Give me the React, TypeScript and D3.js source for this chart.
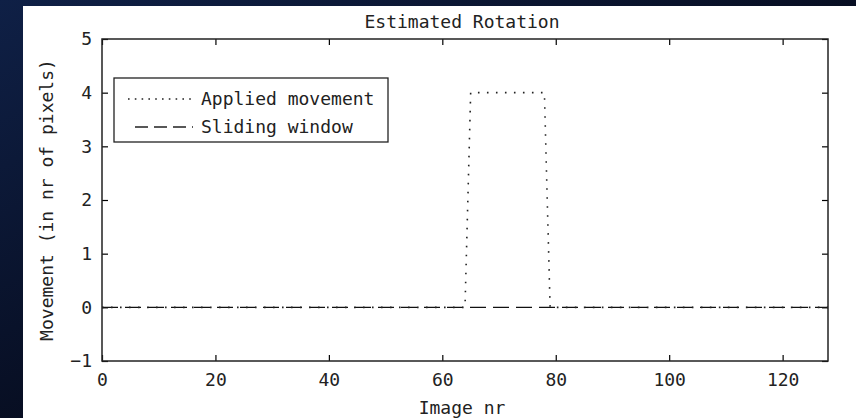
import React, { useEffect, useRef } from 'react';
import * as d3 from 'd3';

// Image numbers and movement values
const appliedX = [0, 64, 65, 78, 79, 128];
const appliedY = [0, 0, 4, 4, 0, 0];
const windowX = [0, 128];
const windowY = [0, 0];

const xTicks = [0, 20, 40, 60, 80, 100, 120];
const yTicks = [-1, 0, 1, 2, 3, 4, 5];

const legendLabels = ['Applied movement', 'Sliding window'];

const FONT = '"DejaVu Sans Mono", monospace';

const App = () => {
  const svgRef = useRef<SVGSVGElement>(null);
  const width = 856;
  const height = 418;
  const margin = { top: 39, right: 28, bottom: 57, left: 102 };

  useEffect(() => {
    const svg = d3.select(svgRef.current);
    svg.selectAll('*').remove();

    // fondo tipo diapositiva
    const defs = svg.append('defs');
    const grad = defs.append('linearGradient')
      .attr('id', 'bg')
      .attr('x1', 0).attr('y1', 0).attr('x2', 1).attr('y2', 1);
    grad.append('stop').attr('offset', '0%').attr('stop-color', '#0f2046');
    grad.append('stop').attr('offset', '60%').attr('stop-color', '#060b1c');
    grad.append('stop').attr('offset', '100%').attr('stop-color', '#050508');
    svg.append('rect').attr('width', width).attr('height', height).attr('fill', 'url(#bg)');

    // figura blanca
    svg.append('rect')
      .attr('x', 23).attr('y', 6)
      .attr('width', width - 23).attr('height', height - 6)
      .attr('fill', '#fff');

    const x = d3.scaleLinear().domain([0, 128]).range([margin.left, width - margin.right]);
    const y = d3.scaleLinear().domain([-1, 5]).range([height - margin.bottom, margin.top]);

    const styleAxis = (g: any) => {
      g.select('.domain').remove();
      g.selectAll('.tick line').attr('stroke', '#000').attr('stroke-width', 1.2);
      g.selectAll('text')
        .attr('fill', '#222')
        .attr('font-family', FONT)
        .attr('font-size', 18);
    };

    svg.append('g')
      .attr('transform', `translate(0,${y(-1)})`)
      .call(d3.axisBottom(x).tickValues(xTicks).tickSize(-6).tickPadding(12).tickFormat(d3.format('d')))
      .call(styleAxis);

    svg.append('g')
      .attr('transform', `translate(0,${y(5)})`)
      .call(d3.axisTop(x).tickValues(xTicks).tickSize(-6).tickFormat(() => ''))
      .call(styleAxis);

    svg.append('g')
      .attr('transform', `translate(${x(0)},0)`)
      .call(d3.axisLeft(y).tickValues(yTicks).tickSize(-6).tickPadding(10).tickFormat(d3.format('d')))
      .call(styleAxis);

    svg.append('g')
      .attr('transform', `translate(${x(128)},0)`)
      .call(d3.axisRight(y).tickValues(yTicks).tickSize(-6).tickFormat(() => ''))
      .call(styleAxis);

    // marco
    svg.append('rect')
      .attr('x', x(0)).attr('y', y(5))
      .attr('width', x(128) - x(0)).attr('height', y(-1) - y(5))
      .attr('fill', 'none')
      .attr('stroke', '#222')
      .attr('stroke-width', 1.5);

    const line = d3.line<[number, number]>()
      .x(d => x(d[0]))
      .y(d => y(d[1]));

    const windowData = windowX.map((v, i) => [v, windowY[i]] as [number, number]);
    const appliedData = appliedX.map((v, i) => [v, appliedY[i]] as [number, number]);

    svg.append('path')
      .datum(windowData)
      .attr('fill', 'none')
      .attr('stroke', '#111')
      .attr('stroke-width', 1.3)
      .attr('stroke-dasharray', '16 7')
      .attr('d', line);

    svg.append('path')
      .datum(appliedData)
      .attr('fill', 'none')
      .attr('stroke', '#222')
      .attr('stroke-width', 1.6)
      .attr('stroke-dasharray', '1.6 7.4')
      .attr('d', line);

    // leyenda
    const legend = svg.append('g').attr('transform', 'translate(114,78)');
    legend.append('rect')
      .attr('width', 274).attr('height', 64)
      .attr('fill', '#fff')
      .attr('stroke', '#222')
      .attr('stroke-width', 1.3);

    const dashes = ['1.6 5.2', '13 6'];
    legendLabels.forEach((label, i) => {
      const ly = 21 + i * 28;
      legend.append('line')
        .attr('x1', i === 0 ? 14 : 21).attr('x2', 79)
        .attr('y1', ly).attr('y2', ly)
        .attr('stroke', '#222')
        .attr('stroke-width', i === 0 ? 1.6 : 1.3)
        .attr('stroke-dasharray', dashes[i]);
      legend.append('text')
        .attr('x', 87).attr('y', ly)
        .attr('dy', '0.35em')
        .attr('fill', '#222')
        .attr('font-family', FONT)
        .attr('font-size', 18)
        .text(label);
    });

    // titulos
    svg.append('text')
      .attr('x', 462).attr('y', 28)
      .attr('text-anchor', 'middle')
      .attr('fill', '#222')
      .attr('font-family', FONT)
      .attr('font-size', 18)
      .text('Estimated Rotation');

    svg.append('text')
      .attr('x', 462).attr('y', 414)
      .attr('text-anchor', 'middle')
      .attr('fill', '#222')
      .attr('font-family', FONT)
      .attr('font-size', 18)
      .text('Image nr');

    svg.append('text')
      .attr('transform', `translate(53,${(y(-1) + y(5)) / 2}) rotate(-90)`)
      .attr('text-anchor', 'middle')
      .attr('fill', '#222')
      .attr('font-family', FONT)
      .attr('font-size', 18)
      .text('Movement (in nr of pixels)');
  }, []);

  return (
    <div style={{ position: 'absolute', left: 0, top: 0, width, height, overflow: 'hidden' }}>
      <svg ref={svgRef} width={width} height={height} style={{ display: 'block' }} />
    </div>
  );
};

export default App;
